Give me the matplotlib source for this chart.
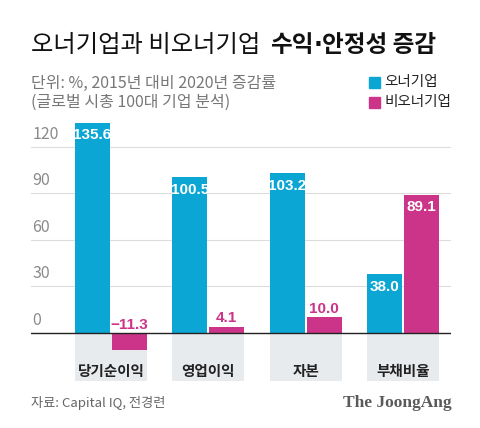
import matplotlib
matplotlib.use('Agg')
import matplotlib.pyplot as plt

plt.rcParams['font.family'] = ['Noto Sans CJK KR', 'DejaVu Sans']

# data
categories = ['당기순이익', '영업이익', '자본', '부채비율']
owner      = [135.6, 100.5, 103.2, 38.0]
non_owner  = [-11.3, 4.1, 10.0, 89.1]
series     = ['오너기업', '비오너기업']
yticks     = [0, 30, 60, 90, 120]

BLUE = '#0ba6d3'
PINK = '#cc3489'
W, H = 480, 428

def fx(x): return x/W
def fy(y): return 1 - y/H

fig = plt.figure(figsize=(4.8, 4.28), dpi=100)
fig.patch.set_facecolor('white')

# axes placed in pixel coords: left 31, right 451, top 120, bottom 383
ax = fig.add_axes([fx(31), fy(383), (451-31)/W, (383-120)/H])
ax.set_xlim(-0.822, 3.494)
ax.set_ylim(-32.3, 137.4)
ax.axis('off')

xs = list(range(len(categories)))
bw, off = 0.36, 0.19
ymin = -31.0

# grey bands behind category labels
ax.bar(xs, [ymin]*len(xs), width=2*off+bw, color='#e8ebee', zorder=0)

for t in yticks:
    ax.axhline(t, color='#222222' if t == 0 else '#dddddd',
               lw=1.0 if t == 0 else 0.8, zorder=1 if t else 4)
    ax.annotate(str(t), (-0.822, t), xytext=(1, 3), textcoords='offset points',
                ha='left', va='bottom', fontsize=11.5, color='#8a8a8a')

ax.bar([x-off for x in xs], owner, width=bw, color=BLUE, zorder=3)
ax.bar([x+off for x in xs], non_owner, width=bw, color=PINK, zorder=3)

numfont = ['Liberation Sans', 'DejaVu Sans']
NFS = 11
def lab(v):
    return ('−%.1f' % -v) if v < 0 else '%.1f' % v

for x, v in zip(xs, owner):
    ax.annotate(lab(v), (x-off, v), xytext=(0, -4), textcoords='offset points',
                ha='center', va='top', color='white', fontsize=NFS,
                fontweight='bold', family=numfont, zorder=5)
for x, v in zip(xs, non_owner):
    if v > 30:
        ax.annotate(lab(v), (x+off, v), xytext=(0, -4), textcoords='offset points',
                    ha='center', va='top', color='white', fontsize=NFS,
                    fontweight='bold', family=numfont, zorder=5)
    else:
        ax.annotate(lab(v), (x+off, max(v, 0)), xytext=(0, 1),
                    textcoords='offset points', ha='center', va='bottom',
                    color=PINK, fontsize=NFS, fontweight='bold',
                    family=numfont, zorder=5)

for x, c in zip(xs, categories):
    ax.text(x, -24.5, c, ha='center', va='center', fontsize=10.5,
            fontweight='bold', color='#222222')

# title: regular part, then bold part chained with a narrow middle dot
fig.text(fx(31), fy(45), '오너기업과 비오너기업', fontsize=17.5, color='#111111',
         va='center', ha='left')
renderer = fig.canvas.get_renderer()
xpos = 270
for piece, fam in [('수익', None), ('·', ['DejaVu Sans']), ('안정성 증감', None)]:
    kw = {} if fam is None else {'family': fam}
    t = fig.text(fx(xpos), fy(45), piece, fontsize=17, color='#111111',
                 va='center', ha='left', fontweight='bold', **kw)
    xpos += t.get_window_extent(renderer).width

# subtitle
fig.text(fx(31), fy(83), '단위: %, 2015년 대비 2020년 증감률', fontsize=11.5,
         color='#777777', va='center')
fig.text(fx(31), fy(102), '(글로벌 시총 100대 기업 분석)', fontsize=11.5,
         color='#777777', va='center')

# legend
for i, (name, col) in enumerate(zip(series, [BLUE, PINK])):
    yc = 82 + i*20
    fig.patches.append(plt.Rectangle((fx(369), fy(yc+5.5)), 11/W, 11/H,
                                     transform=fig.transFigure, color=col))
    fig.text(fx(384), fy(yc), name, fontsize=10.5, color='#222222', va='center')

# footer
fig.text(fx(31), fy(403), '자료: Capital IQ, 전경련', fontsize=9.5, color='#666666',
         va='center')
fig.text(fx(452), fy(403), 'The JoongAng', fontsize=12.5, color='#5a5a5a',
         va='center', ha='right', fontweight='bold',
         family=['Liberation Serif', 'DejaVu Serif'])

fig.savefig('out.png', dpi=100)
